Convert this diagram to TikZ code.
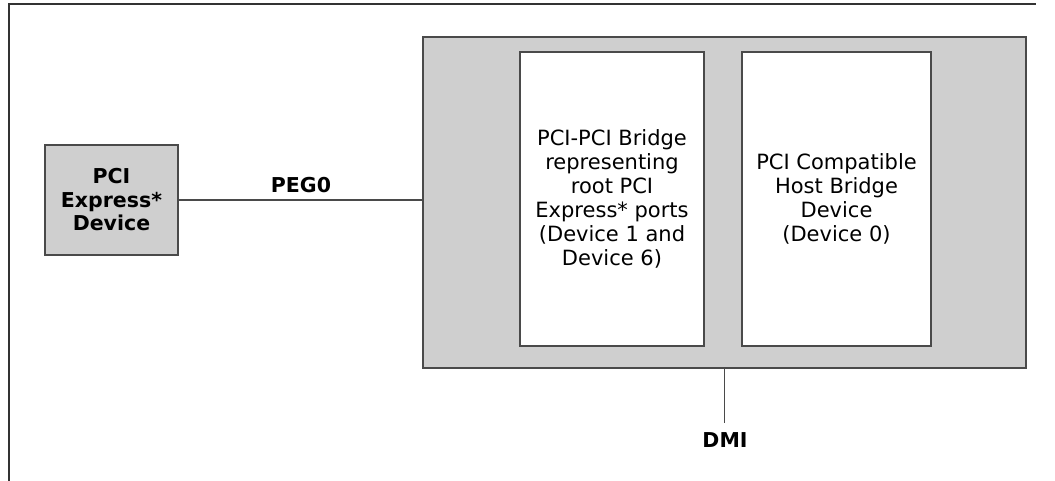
\documentclass[tikz,border=0pt]{standalone}
\usepackage{fontspec}
\setmainfont{DejaVu Sans}
\definecolor{boxgrey}{HTML}{CFCFCF}
\definecolor{edgegrey}{HTML}{4A4A4A}
\begin{document}
\begin{tikzpicture}[x=1pt,y=-1pt,
  greybox/.style={draw=edgegrey,line width=1.6pt,fill=boxgrey,rectangle,inner sep=0pt},
  whitebox/.style={draw=edgegrey,line width=1.6pt,fill=white,rectangle,inner sep=0pt,
     align=center,font=\fontsize{21}{24}\selectfont},
  boldlabel/.style={font=\fontsize{20.5}{23.5}\selectfont\bfseries,align=center,inner sep=0pt},
  wire/.style={draw=edgegrey,line width=1.6pt}]
\useasboundingbox (0,0) rectangle (1055,481);
% frame
\draw[line width=2pt,black!80] (9,481) -- (9,4) -- (1036,4);
% PCI Express device
\node[greybox,minimum width=133pt,minimum height=110pt,boldlabel] (dev) at (111.5,200)
  {PCI\\Express*\\Device};
% chip
\node[greybox,minimum width=603pt,minimum height=331pt] (chip) at (724.5,202.5) {};
\node[whitebox,minimum width=184pt,minimum height=294pt] (b1) at (612,199)
  {PCI-PCI Bridge\\representing\\root PCI\\Express* ports\\(Device 1 and\\Device 6)};
\node[whitebox,minimum width=189pt,minimum height=294pt] (b2) at (836.5,199)
  {PCI Compatible\\Host Bridge\\Device\\(Device 0)};
% PEG0 link
\draw[wire] (dev.east) -- (dev.east -| chip.west);
\node[boldlabel] (peg) at (301,185) {PEG0};
% DMI
\coordinate (dmiend) at (724.5,423);
\draw[wire] (chip.south) -- (dmiend);
\node[boldlabel] (dmi) at (725,440) {DMI};
\end{tikzpicture}
\end{document}
